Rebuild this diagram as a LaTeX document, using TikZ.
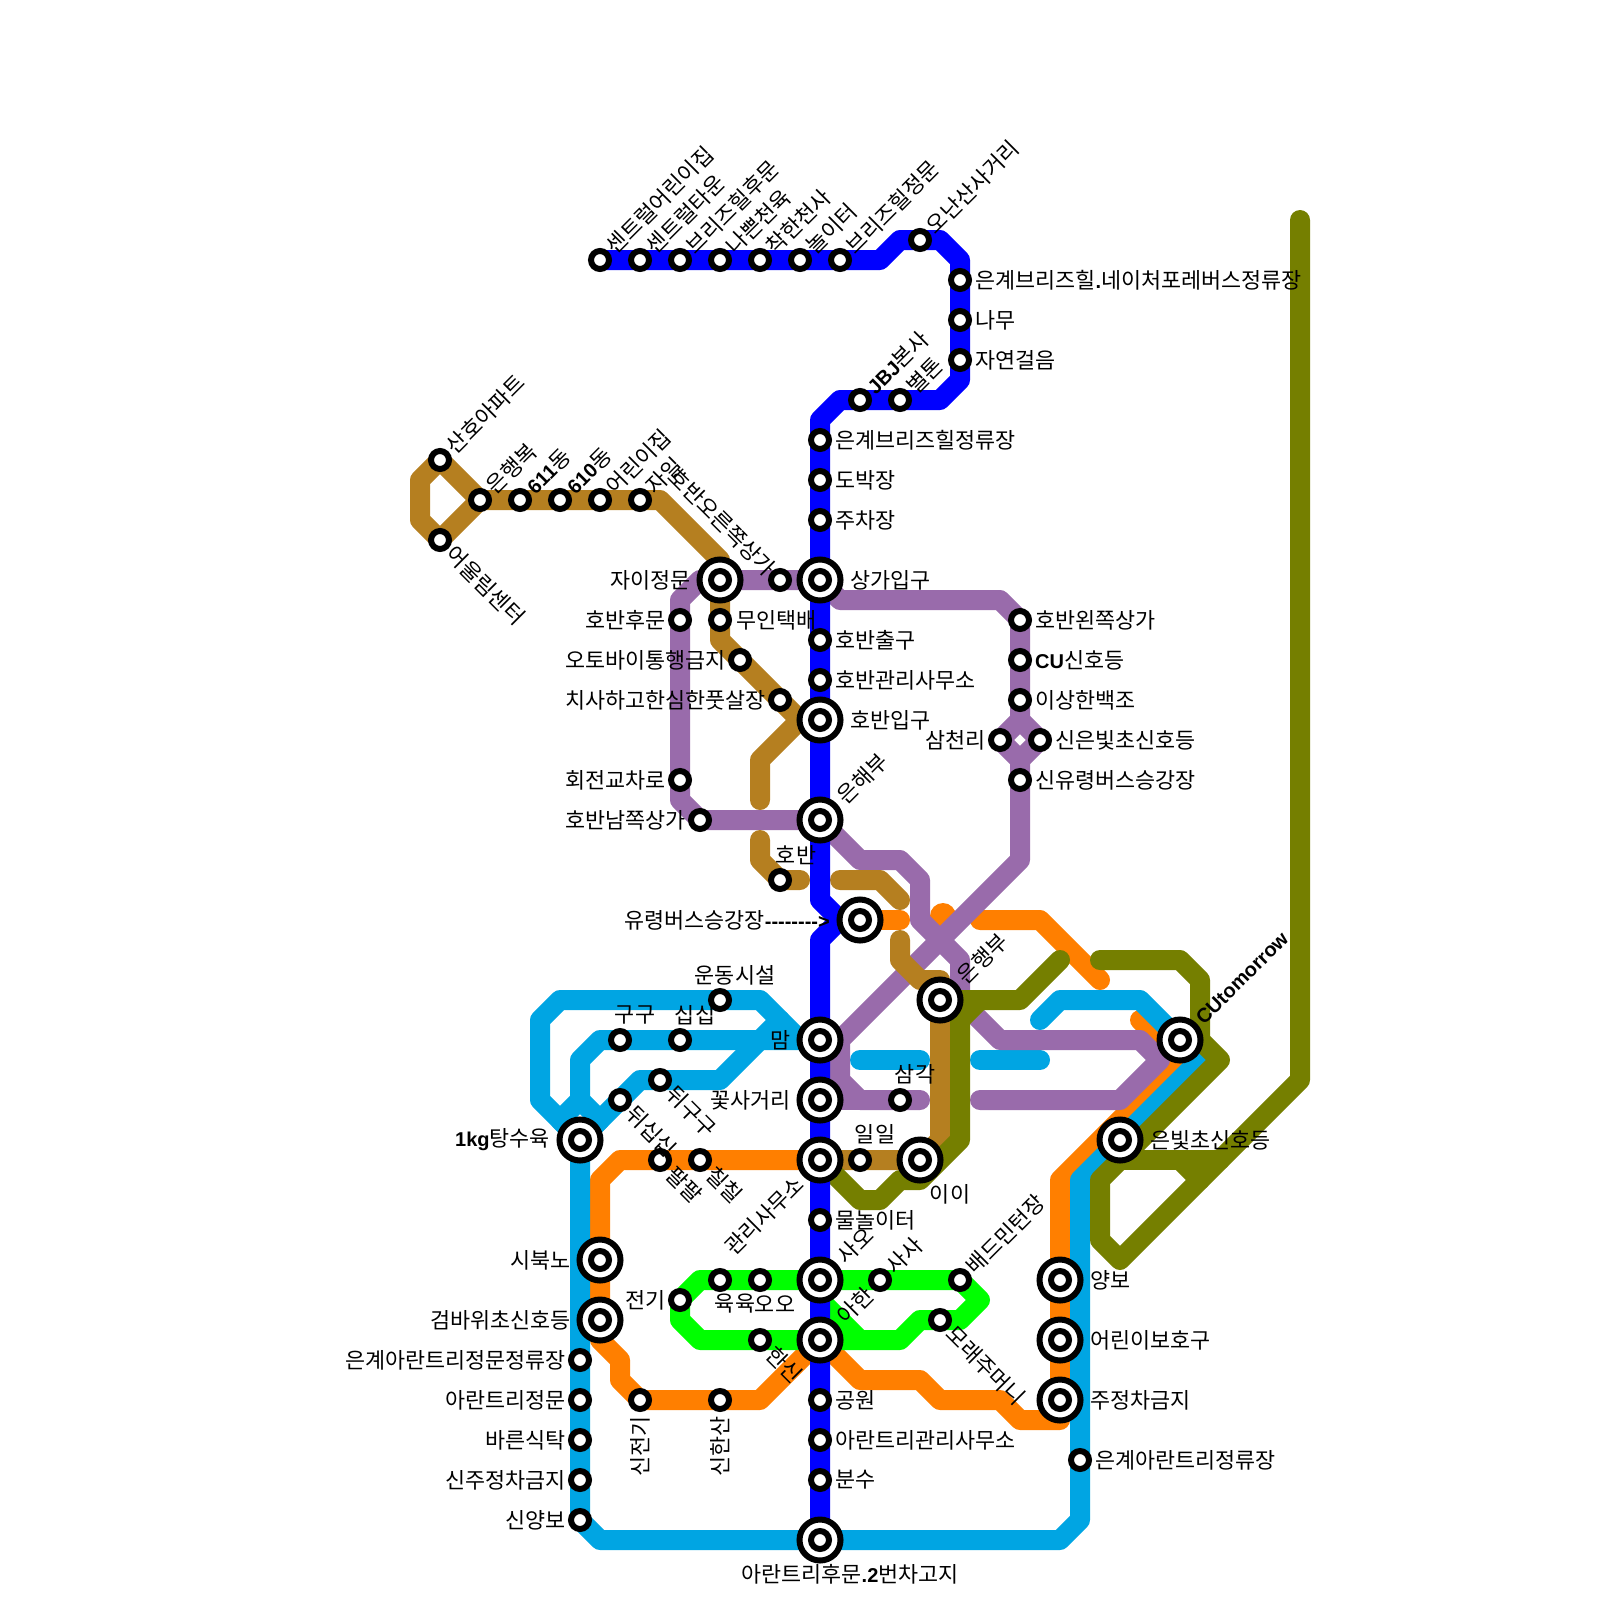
\documentclass[tikz,border=0pt]{standalone}
\usepackage{fontspec}
\setmainfont{Noto Sans CJK KR}
\newfontfamily\latfont{Liberation Sans}
\usetikzlibrary{backgrounds}
\definecolor{lineblue}{HTML}{0000FF}
\definecolor{linebrown}{HTML}{B57F20}
\definecolor{linepurple}{HTML}{996BAB}
\definecolor{lineorange}{HTML}{FF7F00}
\definecolor{lineolive}{HTML}{757F00}
\definecolor{linecyan}{HTML}{00A5E3}
\definecolor{linegreen}{HTML}{00FF00}
\newcommand{\bl}[1]{{\latfont\bfseries\fontsize{20}{24}\selectfont #1}}

\begin{document}
\begin{tikzpicture}[
  x=1pt, y=-1pt,
  font=\fontsize{21.8}{24}\selectfont,
  stn/.style={circle, draw=black, fill=white, line width=6pt, minimum size=18pt, inner sep=0pt},
  hub/.style={circle, draw=black, fill=white, line width=6pt, minimum size=41pt, inner sep=0pt},
  route/.style={line width=20pt, line cap=round, line join=round},
  lbl/.style={inner sep=0pt},
  lblE/.style={lbl, anchor=west},
  lblW/.style={lbl, anchor=east, xshift=2pt},
  lblNE/.style={lbl, anchor=west, rotate=45},
  lblSE/.style={lbl, anchor=west, rotate=-45},
  lblEnd/.style={lbl, anchor=east, rotate=-45},
  lblSW/.style={lbl, anchor=east, rotate=45},
  lblUp/.style={lbl, anchor=east, rotate=90}
]
\useasboundingbox (0,0) rectangle (1600,1600);

% Blue line stations
\node[stn] (centralkids) at (600,260) {};
\node[stn] (centraltown) at (640,260) {};
\node[stn] (breezeback)  at (680,260) {};
\node[stn] (badangel)    at (720,260) {};
\node[stn] (goodangel)   at (760,260) {};
\node[stn] (playground)  at (800,260) {};
\node[stn] (breezefront) at (840,260) {};
\node[stn] (onan)        at (920,240) {};
\node[stn] (natureforet) at (960,280) {};
\node[stn] (namu)        at (960,320) {};
\node[stn] (forestwalk)  at (960,360) {};
\node[stn] (jbj)         at (860,400) {};
\node[stn] (belton)      at (900,400) {};
\node[stn] (breezestop)  at (820,440) {};
\node[stn] (dobak)       at (820,480) {};
\node[stn] (parking)     at (820,520) {};
\node[hub] (mallgate)    at (820,580) {};
\node[stn] (mallgate-i)  at (820,580) {};
\node[stn] (lakeexit)    at (820,640) {};
\node[stn] (lakeoffice)  at (820,680) {};
\node[hub] (lakegate)    at (820,720) {};
\node[stn] (lakegate-i)  at (820,720) {};
\node[hub] (bank)        at (820,820) {};
\node[stn] (bank-i)      at (820,820) {};
\node[hub] (busstop)     at (860,920) {};
\node[stn] (busstop-i)   at (860,920) {};
\node[hub] (mam)         at (820,1040) {};
\node[stn] (mam-i)       at (820,1040) {};
\node[hub] (flowercross) at (820,1100) {};
\node[stn] (flowercross-i) at (820,1100) {};
\node[hub] (office)      at (820,1160) {};
\node[stn] (office-i)    at (820,1160) {};
\node[stn] (waterplay)   at (820,1220) {};
\node[hub] (saoh)        at (820,1280) {};
\node[stn] (saoh-i)      at (820,1280) {};
\node[hub] (ahan)        at (820,1340) {};
\node[stn] (ahan-i)      at (820,1340) {};
\node[stn] (park)        at (820,1400) {};
\node[stn] (aranoffice)  at (820,1440) {};
\node[stn] (fountain)    at (820,1480) {};
\node[hub] (backgate)    at (820,1540) {};
\node[stn] (backgate-i)  at (820,1540) {};

% Brown line stations
\node[stn] (sanho)     at (440,460) {};
\node[stn] (harmony)   at (440,540) {};
\node[stn] (happy)     at (480,500) {};
\node[stn] (dong611)   at (520,500) {};
\node[stn] (dong610)   at (560,500) {};
\node[stn] (kinder)    at (600,500) {};
\node[stn] (jail)      at (640,500) {};
\node[hub] (xigate)    at (720,580) {};
\node[stn] (xigate-i)  at (720,580) {};
\node[stn] (parcel)    at (720,620) {};
\node[stn] (nobike)    at (740,660) {};
\node[stn] (futsal)    at (780,700) {};
\node[stn] (lake)      at (780,880) {};
\node[hub] (eunhaeng)  at (940,1000) {};
\node[stn] (eunhaeng-i) at (940,1000) {};
\node[stn] (ilil)      at (860,1160) {};
\node[hub] (ii)        at (920,1160) {};
\node[stn] (ii-i)      at (920,1160) {};

% Purple line stations
\node[stn] (lakeright) at (780,580) {};
\node[stn] (lakeback)  at (680,620) {};
\node[stn] (rotary)    at (680,780) {};
\node[stn] (lakesouth) at (700,820) {};
\node[stn] (lakeleft)  at (1020,620) {};
\node[stn] (cusignal)  at (1020,660) {};
\node[stn] (swan)      at (1020,700) {};
\node[stn] (samcheon)  at (1000,740) {};
\node[stn] (silver)    at (1040,740) {};
\node[stn] (newbus)    at (1020,780) {};
\node[stn] (samgak)    at (900,1100) {};

% Cyan line stations
\node[hub] (cutomorrow)   at (1180,1040) {};
\node[stn] (cutomorrow-i) at (1180,1040) {};
\node[hub] (silversignal) at (1120,1140) {};
\node[stn] (silversignal-i) at (1120,1140) {};
\node[stn] (aranstop)  at (1080,1460) {};
\node[stn] (sports)    at (720,1000) {};
\node[stn] (gugu)      at (620,1040) {};
\node[stn] (sipsip)    at (680,1040) {};
\node[stn] (dwigugu)   at (660,1080) {};
\node[stn] (dwisip)    at (620,1100) {};
\node[hub] (tangsu)    at (580,1140) {};
\node[stn] (tangsu-i)  at (580,1140) {};
\node[stn] (aranmainstop) at (580,1360) {};
\node[stn] (aranmain)  at (580,1400) {};
\node[stn] (diner)     at (580,1440) {};
\node[stn] (nopark)    at (580,1480) {};
\node[stn] (sinyang)   at (580,1520) {};

% Orange line stations
\node[stn] (palpal)    at (660,1160) {};
\node[stn] (chilchil)  at (700,1160) {};
\node[hub] (sibuk)     at (600,1260) {};
\node[stn] (sibuk-i)   at (600,1260) {};
\node[hub] (geomba)    at (600,1320) {};
\node[stn] (geomba-i)  at (600,1320) {};
\node[stn] (sinjeon)   at (640,1400) {};
\node[stn] (sinhan)    at (720,1400) {};
\node[hub] (yangbo)    at (1060,1280) {};
\node[stn] (yangbo-i)  at (1060,1280) {};
\node[hub] (kidzone)   at (1060,1340) {};
\node[stn] (kidzone-i) at (1060,1340) {};
\node[hub] (nostop)    at (1060,1400) {};
\node[stn] (nostop-i)  at (1060,1400) {};

% Green line stations
\node[stn] (elec)    at (680,1300) {};
\node[stn] (yukyuk)  at (720,1280) {};
\node[stn] (oo)      at (760,1280) {};
\node[stn] (hansin)  at (760,1340) {};
\node[stn] (sasa)    at (880,1280) {};
\node[stn] (badmin)  at (960,1280) {};
\node[stn] (sandbag) at (940,1320) {};

\begin{scope}[on background layer]
% Orange
\draw[route, lineorange] (busstop.center) -- (900,920);
\draw[route, lineorange, line width=26pt] (943,916) -- (943,918);
\draw[route, lineorange] (980,920) -- (1040,920) -- (1100,980);
\draw[route, lineorange] (1140,1020) -- (1180,1060) -- (1060,1180) -- (nostop.center) -- (1060,1420) -- (1020,1420) -- (1000,1400) -- (940,1400) -- (920,1380) -- (860,1380) -- (ahan.center);
\draw[route, lineorange] (office.center) -- (620,1160) -- (600,1180) -- (geomba.center) -- (600,1340) -- (620,1360) -- (620,1380) -- (640,1400) -- (760,1400) -- (ahan.center);

% Cyan
\draw[route, linecyan] (1040,1020) -- (1060,1000) -- (1140,1000) -- (1200,1060) -- (1080,1180) -- (1080,1520) -- (1060,1540) -- (600,1540) -- (580,1520) -- (tangsu.center);
\draw[route, linecyan] (tangsu.center) -- (540,1100) -- (540,1020) -- (560,1000) -- (760,1000) -- (800,1040) -- (mam.center);
\draw[route, linecyan] (mam.center) -- (600,1040) -- (580,1060) -- (580,1100) -- (560,1120) -- (tangsu.center);
\draw[route, linecyan] (580,1100) -- (600,1120) -- (tangsu.center);
\draw[route, linecyan] (tangsu.center) -- (640,1080) -- (720,1080) -- (780,1020);
\draw[route, linecyan] (860,1060) -- (920,1060);
\draw[route, linecyan] (980,1060) -- (1040,1060);

% Green
\draw[route, linegreen] (saoh.center) -- (700,1280) -- (680,1300) -- (680,1320) -- (700,1340) -- (900,1340) -- (920,1320) -- (960,1320) -- (980,1300) -- (960,1280) -- (saoh.center);
\draw[route, linegreen] (saoh.center) -- (820,1300) -- (860,1340);

% Purple
\draw[route, linepurple] (mallgate.center) -- (xigate.center) -- (700,580) -- (680,600) -- (680,800) -- (700,820) -- (bank.center);
\draw[route, linepurple] (mallgate.center) -- (840,600) -- (1000,600) -- (1020,620) -- (1020,720) -- (1000,740) -- (1020,760) -- (1020,860) -- (840,1040) -- (840,1080) -- (860,1100) -- (920,1100);
\draw[route, linepurple] (1020,720) -- (1040,740) -- (1020,760);
\draw[route, linepurple] (flowercross.center) -- (860,1100);
\draw[route, linepurple] (mam.center) -- (840,1040);
\draw[route, linepurple] (bank.center) -- (860,860) -- (900,860) -- (920,880) -- (920,920) -- (960,960) -- (960,1000) -- (1000,1040) -- (1140,1040) -- (1160,1060) -- (1120,1100) -- (980,1100);

% Brown
\draw[route, linebrown] (sanho.center) -- (420,480) -- (420,520) -- (harmony.center) -- (happy.center) -- (sanho.center);
\draw[route, linebrown] (happy.center) -- (660,500) -- (720,560) -- (xigate.center) -- (720,640) -- (800,720) -- (760,760) -- (760,800);
\draw[route, linebrown] (760,840) -- (760,860) -- (lake.center) -- (800,880);
\draw[route, linebrown] (840,880) -- (880,880) -- (900,900);
\draw[route, linebrown] (900,940) -- (900,960) -- (920,980) -- (940,980) -- (940,1140) -- (ii.center) -- (office.center);

% Olive
\draw[route, lineolive] (1060,960) -- (1020,1000) -- (980,1000) -- (960,1020) -- (960,1140) -- (920,1180) -- (900,1180) -- (880,1200) -- (860,1200) -- (office.center);
\draw[route, lineolive] (eunhaeng.center) -- (980,1000);
\draw[route, lineolive] (1100,960) -- (1180,960) -- (1200,980) -- (1200,1040) -- (1220,1060) -- (1100,1180) -- (1100,1240) -- (1120,1260) -- (1300,1080) -- (1300,220);
\draw[route, lineolive] (1120,1160) -- (1220,1160);
\draw[route, lineolive] (1180,1160) -- (1200,1180);

% Blue
\draw[route, lineblue] (centralkids.center) -- (880,260) -- (900,240) -- (940,240) -- (960,260) -- (960,380) -- (940,400) -- (840,400) -- (820,420) -- (820,900) -- (840,920) -- (busstop.center);
\draw[route, lineblue] (busstop.center) -- (840,920) -- (820,940) -- (backgate.center);
\end{scope}

% Labels, top
\node[lblNE] (centralkids-l) at (610,250) {센트럴어린이집};
\node[lblNE] (centraltown-l) at (650,250) {센트럴타운};
\node[lblNE] (breezeback-l)  at (690,250) {브리즈힐후문};
\node[lblNE] (badangel-l)    at (730,250) {나쁜천육};
\node[lblNE] (goodangel-l)   at (770,250) {착한천사};
\node[lblNE] (playground-l)  at (810,250) {놀이터};
\node[lblNE] (breezefront-l) at (850,250) {브리즈힐정문};
\node[lblNE] (onan-l)        at (930,230) {오난산사거리};
\node[lblE] (natureforet-l)  at (975,280) {은계브리즈힐\bl{.}네이처포레버스정류장};
\node[lblE] (namu-l)         at (975,320) {나무};
\node[lblE] (forestwalk-l)   at (975,360) {자연걸음};
\node[lblNE] (jbj-l)         at (870,390) {\bl{JBJ}본사};
\node[lblNE] (belton-l)      at (910,390) {별톤};
\node[lblE] (breezestop-l)   at (835,440) {은계브리즈힐정류장};
\node[lblE] (dobak-l)        at (835,480) {도박장};
\node[lblE] (parking-l)      at (835,520) {주차장};
\node[lblE] (mallgate-l)     at (850,580) {상가입구};
\node[lblE] (lakeexit-l)     at (835,640) {호반출구};
\node[lblE] (lakeoffice-l)   at (835,680) {호반관리사무소};
\node[lblE] (lakegate-l)     at (850,720) {호반입구};
\node[lblNE] (bank-l)        at (841,800) {은해부};

% Labels, left branch
\node[lblNE] (sanho-l)   at (450,450) {산호아파트};
\node[lblSE] (harmony-l) at (450,550) {어울림센터};
\node[lblNE] (happy-l)   at (490,490) {은행복};
\node[lblNE] (dong611-l) at (530,490) {\bl{611}동};
\node[lblNE] (dong610-l) at (570,490) {\bl{610}동};
\node[lblNE] (kinder-l)  at (610,490) {어린이집};
\node[lblNE] (jail-l)    at (650,490) {자일};
\node[lblEnd] (lakeright-l) at (772,572) {호반오른쪽상가};
\node[lblW] (xigate-l)   at (689,580) {자이정문};
\node[lblW] (lakeback-l) at (664,620) {호반후문};
\node[lblE] (parcel-l)   at (736,620) {무인택배};
\node[lblW] (nobike-l)   at (724,660) {오토바이통행금지};
\node[lblW] (futsal-l)   at (764,700) {치사하고한심한풋살장};
\node[lblW] (rotary-l)   at (664,780) {회전교차로};
\node[lblW] (lakesouth-l) at (684,820) {호반남쪽상가};
\node[lbl] (lake-l)      at (796,855) {호반};
\node[lblW] (busstop-l)  at (828,920) {유령버스승강장\bl{-------->}};

% Labels, right
\node[lblE] (lakeleft-l) at (1035,620) {호반왼쪽상가};
\node[lblE] (cusignal-l) at (1035,660) {\bl{CU}신호등};
\node[lblE] (swan-l)     at (1035,700) {이상한백조};
\node[lblW] (samcheon-l) at (984,740) {삼천리};
\node[lblE] (silver-l)   at (1055,740) {신은빛초신호등};
\node[lblE] (newbus-l)   at (1035,780) {신유령버스승강장};
\node[lblNE] (eunhaeng-l) at (961,980) {은행부};
\node[lblNE] (cutomorrow-l) at (1199,1021) {\bl{CUtomorrow}};
\node[lblE] (silversignal-l) at (1150,1140) {은빛초신호등};
\node[lbl] (samgak-l)    at (915,1074) {삼각};
\node[lbl] (ilil-l)      at (875,1134) {일일};
\node[lbl] (ii-l)        at (950,1194) {이이};
\node[lblE] (yangbo-l)   at (1090,1280) {양보};
\node[lblE] (kidzone-l)  at (1090,1340) {어린이보호구};
\node[lblE] (nostop-l)   at (1090,1400) {주정차금지};
\node[lblE] (aranstop-l) at (1095,1460) {은계아란트리정류장};

% Labels, cyan loop
\node[lbl] (sports-l)    at (735,975) {운동시설};
\node[lbl] (gugu-l)      at (635,1015) {구구};
\node[lbl] (sipsip-l)    at (695,1015) {십십};
\node[lblW] (mam-l)      at (789,1040) {맘};
\node[lblW] (flowercross-l) at (789,1100) {꽃사거리};
\node[lblSE] (dwigugu-l) at (670,1090) {뒤구구};
\node[lblSE] (dwisip-l)  at (630,1110) {뒤십십};
\node[lblW] (tangsu-l)   at (548,1140) {\bl{1kg}탕수육};
\node[lblSE] (palpal-l)  at (670,1170) {팔팔};
\node[lblSE] (chilchil-l) at (710,1170) {칠칠};
\node[lblSW] (office-l)  at (800,1180) {관리사무소};
\node[lblE] (waterplay-l) at (835,1220) {물놀이터};

% Labels, bottom
\node[lblW] (sibuk-l)    at (569,1260) {시북노};
\node[lblW] (geomba-l)   at (569,1320) {검바위초신호등};
\node[lblW] (aranmainstop-l) at (564,1360) {은계아란트리정문정류장};
\node[lblW] (aranmain-l) at (564,1400) {아란트리정문};
\node[lblW] (diner-l)    at (564,1440) {바른식탁};
\node[lblW] (nopark-l)   at (564,1480) {신주정차금지};
\node[lblW] (sinyang-l)  at (564,1520) {신양보};
\node[lblW] (elec-l)     at (664,1300) {전기};
\node[lbl] (yukyuk-l)    at (735,1304) {육육};
\node[lbl] (oo-l)        at (775,1304) {오오};
\node[lblSE] (hansin-l)  at (770,1350) {한신};
\node[lblNE] (saoh-l)    at (841,1260) {사오};
\node[lblNE] (ahan-l)    at (841,1320) {아한};
\node[lblNE] (sasa-l)    at (890,1270) {사사};
\node[lblNE] (badmin-l)  at (970,1270) {배드민턴장};
\node[lblSE] (sandbag-l) at (950,1330) {모래주머니};
\node[lblUp] (sinjeon-l) at (640,1416) {신전기};
\node[lblUp] (sinhan-l)  at (720,1416) {신한산};
\node[lblE] (park-l)     at (835,1400) {공원};
\node[lblE] (aranoffice-l) at (835,1440) {아란트리관리사무소};
\node[lblE] (fountain-l) at (835,1480) {분수};
\node[lbl] (backgate-l)  at (850,1574) {아란트리후문\bl{.2}번차고지};
\end{tikzpicture}
\end{document}
